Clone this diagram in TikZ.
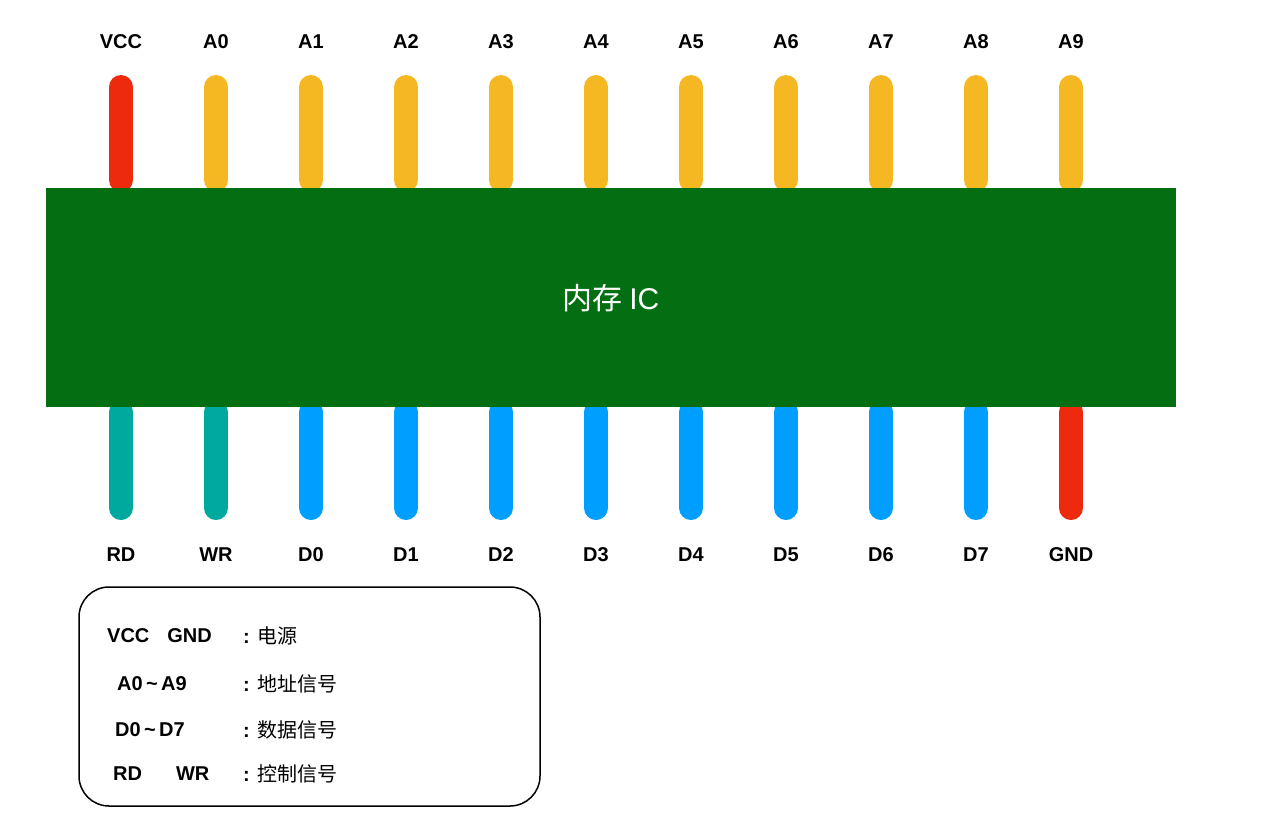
\documentclass[tikz,border=0pt]{standalone}
\usepackage{fontspec}
\setmainfont{Liberation Sans}
\newfontfamily\cjk{Noto Sans CJK SC}
\definecolor{chipg}{HTML}{046F12}
\definecolor{pinY}{HTML}{F5B823}
\definecolor{pinR}{HTML}{EE2A0E}
\definecolor{pinT}{HTML}{00A99D}
\definecolor{pinB}{HTML}{009FFF}
\begin{document}
\begin{tikzpicture}[x=1pt,y=-1pt,
  pin/.style={line width=24pt,line cap=round},
  lab/.style={font=\fontsize{20}{24}\selectfont\bfseries,inner sep=0pt},
  leg/.style={font=\fontsize{20}{24}\selectfont\bfseries,inner sep=0pt,anchor=west}]
\useasboundingbox (0,0) rectangle (1264,836);
\foreach \i/\t/\c in {0/VCC/pinR,1/A0/pinY,2/A1/pinY,3/A2/pinY,4/A3/pinY,5/A4/pinY,6/A5/pinY,7/A6/pinY,8/A7/pinY,9/A8/pinY,10/A9/pinY}{
  \coordinate (ta\i) at ({121+95*\i},87);
  \coordinate (tb\i) at ({121+95*\i},180);
  \draw[pin,\c] (ta\i) -- (tb\i);
  \node[lab] (tl\i) at ({121+95*\i},42) {\t};
}
\foreach \i/\t/\c in {0/RD/pinT,1/WR/pinT,2/D0/pinB,3/D1/pinB,4/D2/pinB,5/D3/pinB,6/D4/pinB,7/D5/pinB,8/D6/pinB,9/D7/pinB,10/GND/pinR}{
  \coordinate (ba\i) at ({121+95*\i},412);
  \coordinate (bb\i) at ({121+95*\i},508);
  \draw[pin,\c] (ba\i) -- (bb\i);
  \node[lab] (bl\i) at ({121+95*\i},555) {\t};
}
\node[fill=chipg,minimum width=1130pt,minimum height=219pt,inner sep=0pt] (chip) at (611,297.5) {};
\node[text=white,font=\fontsize{30}{34}\selectfont] (title) at (611,298) {\cjk 内存\ \rmfamily IC};
\draw[line width=1.5pt,rounded corners=30pt] (79,587) rectangle (540,806);
\node[leg] (l1) at (107,636) {VCC\hspace{18pt}GND};
\node[leg] (l2) at (117,684) {A0\,\raisebox{0pt}{\textasciitilde}\,A9};
\node[leg] (l3) at (115,730) {D0\,\textasciitilde\,D7};
\node[leg] (l4) at (113,774) {RD\hspace{34pt}WR};
\node[leg] (c1) at (243,636) {: \cjk\mdseries 电源};
\node[leg] (c2) at (243,684) {: \cjk\mdseries 地址信号};
\node[leg] (c3) at (243,730) {: \cjk\mdseries 数据信号};
\node[leg] (c4) at (243,774) {: \cjk\mdseries 控制信号};
\end{tikzpicture}
\end{document}
